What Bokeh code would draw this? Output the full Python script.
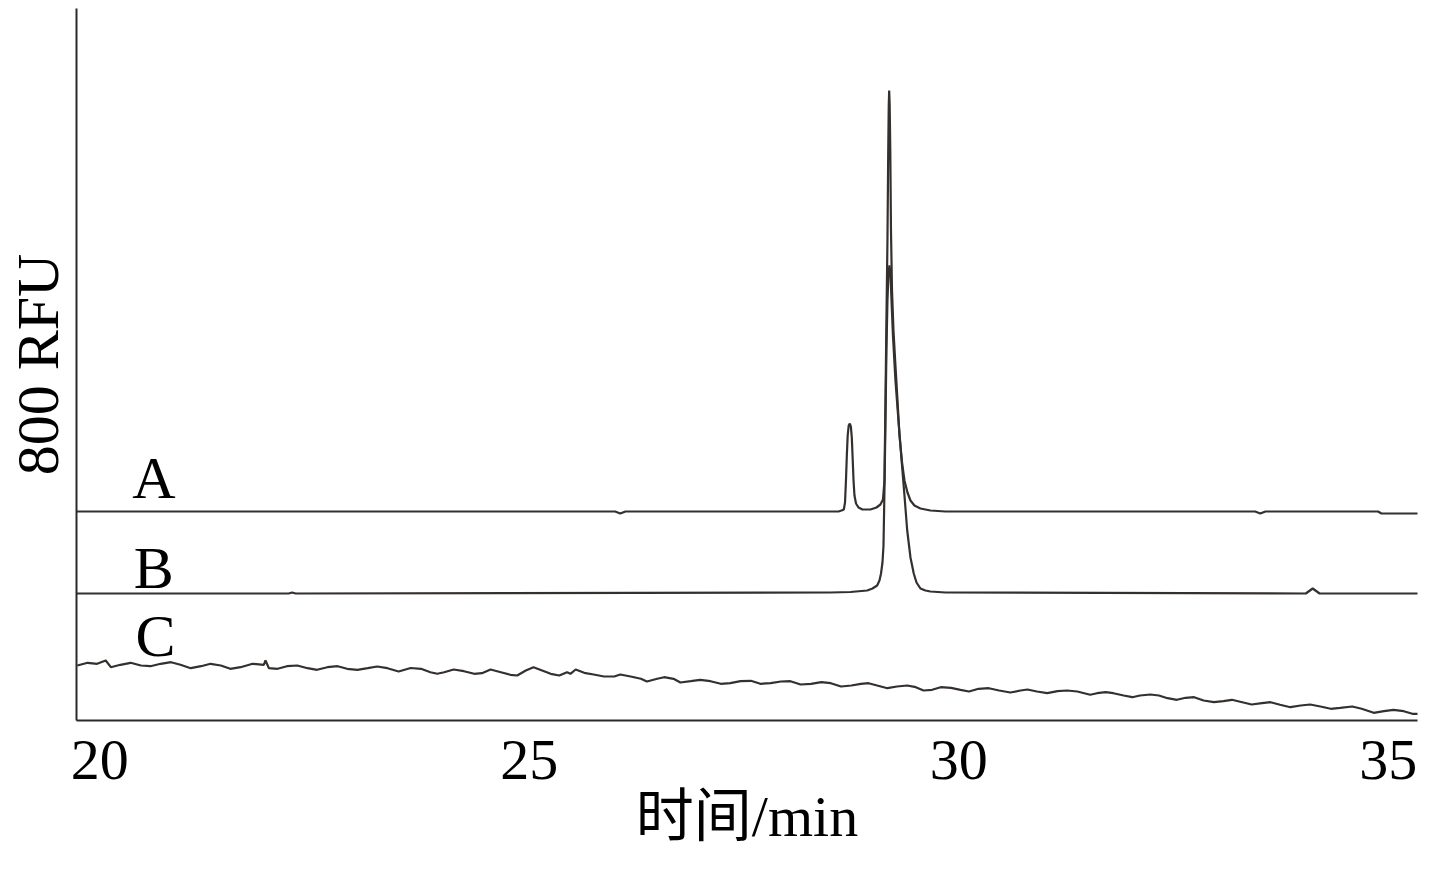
from bokeh.plotting import figure
from bokeh.models import Range1d, FixedTicker, ColumnDataSource
from bokeh.core.properties import value
from bokeh.embed import file_html
from bokeh.resources import INLINE

# ---- data (time in min, signal in arbitrary units; traces are stacked with offsets) ----
a_time = [19.73, 26.00, 26.06, 26.12, 28.60, 28.635, 28.662, 28.676, 28.687, 28.697, 28.707,
          28.719, 28.732, 28.744, 28.755, 28.765, 28.775, 28.786, 28.804, 28.833, 28.879,
          28.972, 29.042, 29.088, 29.118, 29.135, 29.147, 29.158, 29.170, 29.179, 29.185,
          29.190, 29.196, 29.203, 29.211, 29.223, 29.240, 29.263, 29.287, 29.310, 29.341,
          29.368, 29.403, 29.438, 29.484, 29.554, 29.670, 29.845, 33.45, 33.51, 33.57,
          34.88, 34.92, 35.43]
a_signal = [209, 209, 207, 209, 209, 210, 211, 218, 240, 265, 285,
            295, 297, 294, 283, 262, 240, 225, 217, 213, 211,
            211, 213, 216, 221, 240, 320, 400, 480, 570, 615,
            630, 615, 570, 490, 430, 390, 355, 320, 285, 257,
            240, 228, 220, 215, 212, 210, 209, 209, 207, 209,
            209, 207, 207]

b_time = [19.73, 22.20, 22.24, 22.28, 28.507, 28.740, 28.934, 28.996, 29.050, 29.077, 29.095,
          29.112, 29.124, 29.135, 29.147, 29.158, 29.170, 29.182, 29.193, 29.205, 29.217,
          29.234, 29.263, 29.298, 29.333, 29.368, 29.400, 29.438, 29.476, 29.508, 29.554,
          29.612, 29.670, 29.845, 34.04, 34.12, 34.20, 35.43]
b_signal = [127, 127, 128, 127, 128, 128.5, 130, 132, 135, 140, 147,
            158, 175, 230, 300, 370, 420, 447, 455, 447, 420,
            385, 340, 300, 262, 225, 190, 163, 147, 138, 132,
            130, 129, 128, 127, 132, 127, 127]

c_time = [19.74, 19.86, 19.97, 20.07, 20.13, 20.24, 20.36, 20.48, 20.59, 20.71, 20.83, 20.94,
          21.06, 21.18, 21.29, 21.41, 21.52, 21.64, 21.78, 21.91, 21.93, 21.97, 22.07, 22.18,
          22.30, 22.42, 22.53, 22.65, 22.77, 22.88, 23.00, 23.12, 23.23, 23.35, 23.48, 23.62,
          23.74, 23.85, 23.93, 24.01, 24.12, 24.24, 24.36, 24.45, 24.55, 24.67, 24.78, 24.86,
          24.96, 25.05, 25.15, 25.25, 25.35, 25.44, 25.48, 25.54, 25.64, 25.75, 25.87, 25.99,
          26.06, 26.18, 26.30, 26.37, 26.49, 26.57, 26.68, 26.76, 26.88, 26.99, 27.11, 27.23,
          27.34, 27.46, 27.58, 27.69, 27.81, 27.93, 28.04, 28.16, 28.28, 28.40, 28.51, 28.63,
          28.75, 28.86, 28.95, 29.05, 29.17, 29.28, 29.40, 29.50, 29.59, 29.69, 29.79, 29.91,
          30.02, 30.12, 30.23, 30.35, 30.47, 30.60, 30.72, 30.80, 30.91, 31.03, 31.15, 31.26,
          31.38, 31.53, 31.61, 31.71, 31.80, 31.92, 32.02, 32.11, 32.23, 32.33, 32.43, 32.54,
          32.64, 32.74, 32.85, 32.97, 33.08, 33.18, 33.30, 33.41, 33.53, 33.63, 33.74, 33.86,
          33.98, 34.09, 34.21, 34.33, 34.44, 34.58, 34.69, 34.83, 34.95, 35.06, 35.18, 35.28,
          35.35, 35.43]
c_signal = [55, 57.7, 56.7, 60, 53.3, 55.7, 57.7, 55, 54.3, 56.7, 58.3, 55.7,
            52.3, 54.3, 56.7, 55, 51.7, 53.3, 56.7, 55.7, 60, 52.3, 51.7, 54.3,
            55, 52.3, 50.7, 53.3, 54.3, 51.7, 50.7, 52.3, 54, 52.3, 49, 52.5,
            51.7, 48.3, 46.7, 48.3, 51, 49.3, 46.7, 47.3, 51, 48.3, 45.7, 45,
            50, 53.3, 50, 46.7, 45, 48.3, 46.7, 51, 47.7, 46, 44, 44,
            46, 44, 41.7, 39, 41.7, 43.3, 41.7, 38, 39.3, 40.7, 39.3, 36.7,
            37.3, 39.3, 39.7, 36.7, 37.3, 39, 39.3, 36, 36.7, 38.3, 37.3, 34,
            35, 36.7, 37.3, 35, 32.3, 34, 35, 33.3, 30, 30.7, 33.3, 32.7,
            30.7, 29, 31.7, 32.3, 30, 28, 30, 31, 29, 27.3, 29.3, 30,
            29, 25.8, 27.3, 28.3, 27.3, 25, 23.3, 25, 26, 25, 22.3, 20.7,
            22.7, 23.3, 20, 18.3, 19.3, 20.7, 18.3, 16, 17.3, 18.3, 15.7, 13.3,
            15, 16, 14, 11.7, 12.7, 14, 11.7, 7.7, 9.3, 10.7, 9.3, 6.7,
            6.7, 7.7]

trace_names = ["A", "B", "C"]
name_time = [20.63, 20.63, 20.65]
name_signal = [243, 153, 85]

x_ticks = [20, 25, 30, 35]
x_label = "时间/min"
y_label = "800 RFU"

# ---- figure ----
X0, X1 = 19.73, 35.34
p = figure(width=1423, height=854, output_backend="svg", toolbar_location=None,
           x_range=Range1d(X0, X1), y_range=Range1d(0, 712),
           min_border_left=76, min_border_right=6, min_border_top=8, min_border_bottom=134)
p.outline_line_color = None
p.xgrid.visible = False
p.ygrid.visible = False
p.background_fill_color = "white"
p.border_fill_color = "white"

line_col = "#34302e"
p.line(a_time, a_signal, line_color=line_col, line_width=2.2)
p.line(b_time, b_signal, line_color=line_col, line_width=2.2)
p.line(c_time, c_signal, line_color=line_col, line_width=2.2)

src = ColumnDataSource(dict(x=name_time, y=name_signal, t=trace_names))
p.text(x="x", y="y", text="t", source=src, text_font=value("Liberation Serif"),
       text_font_size="60px", text_align="center", text_baseline="alphabetic",
       text_color="black")

serif = "Liberation Serif"
xa = p.xaxis[0]
xa.ticker = FixedTicker(ticks=x_ticks)
xa.axis_label = x_label
xa.axis_line_color = "#2a2a2a"
xa.axis_line_width = 2
xa.major_tick_line_color = None
xa.minor_tick_line_color = None
xa.major_label_text_font = serif
xa.major_label_text_font_size = "58px"
xa.major_label_text_color = "black"
xa.major_label_standoff = 14
xa.axis_label_text_font = "Liberation Serif, Noto Sans CJK SC"
xa.axis_label_text_font_size = "58px"
xa.axis_label_text_font_style = "normal"
xa.axis_label_text_color = "black"
xa.axis_label_standoff = 2

ya = p.yaxis[0]
ya.ticker = FixedTicker(ticks=[])
ya.axis_label = y_label
ya.axis_line_color = "#2a2a2a"
ya.axis_line_width = 2
ya.major_tick_line_color = None
ya.minor_tick_line_color = None
ya.major_label_text_font_size = "0px"
ya.axis_label_text_font = serif
ya.axis_label_text_font_size = "60px"
ya.axis_label_text_font_style = "normal"
ya.axis_label_text_color = "black"
ya.axis_label_standoff = 6

open("out.html", "w").write(file_html(p, INLINE))
